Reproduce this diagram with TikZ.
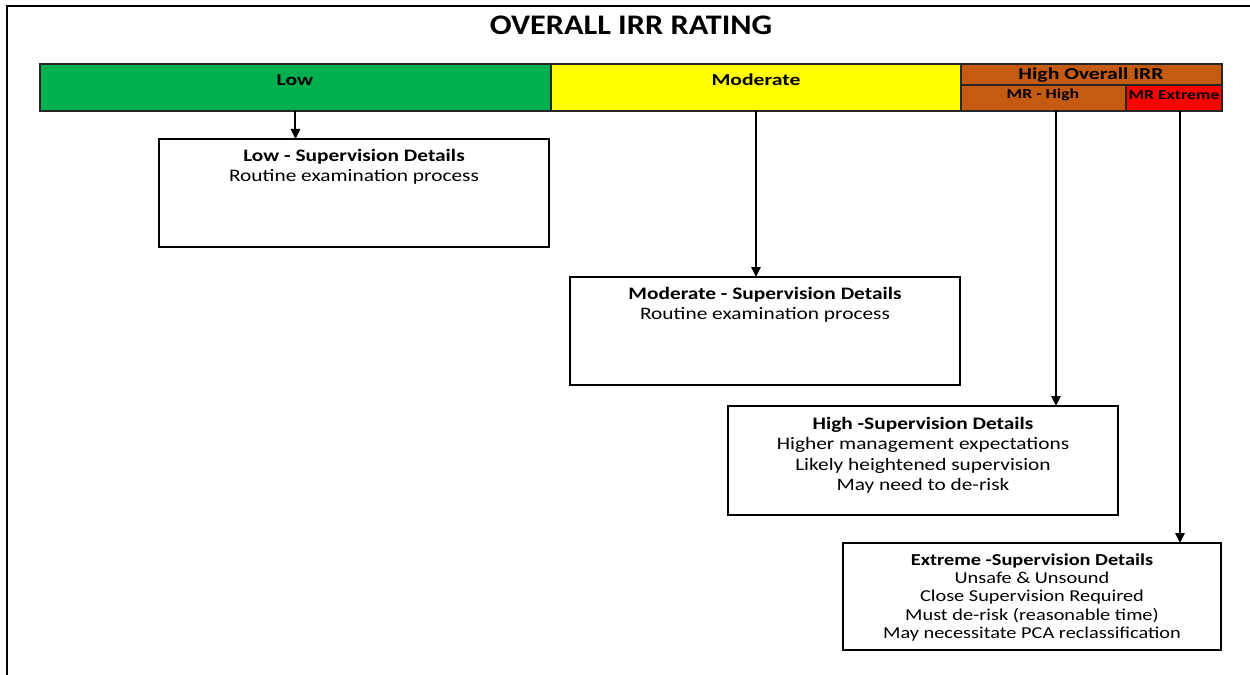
\documentclass[tikz,border=0pt]{standalone}
\usepackage{fontspec}
\setmainfont{Carlito}
\newfontfamily\bodyf{Carlito}[FakeStretch=1.22]
\newfontfamily\titlef{Carlito}[FakeStretch=1.14]
\newfontfamily\barf{Carlito}[FakeStretch=1.3]
\usetikzlibrary{arrows.meta}
\definecolor{cgreen}{HTML}{00B050}
\definecolor{cyellow}{HTML}{FFFF00}
\definecolor{corange}{HTML}{C55A11}
\definecolor{cred}{HTML}{FF0000}
\begin{document}
\begin{tikzpicture}[x=0.6pt,y=-0.6pt,
  seg/.style={draw=black!85, line width=0.8pt, inner sep=0, outer sep=0, anchor=north west},
  lbl/.style={font=\barf\bfseries\fontsize{10}{12}\selectfont, inner sep=0},
  slbl/.style={font=\barf\bfseries\fontsize{8.2}{10}\selectfont, inner sep=0},
  box/.style={draw, line width=1.2pt, anchor=north west, inner sep=0, outer sep=0},
  txt/.style={anchor=north, align=center, inner sep=0, font=\bodyf\fontsize{10.5}{12.2}\selectfont},
  arr/.style={line width=1.2pt, -{Triangle[length=6pt,width=5.5pt]}}
]
\useasboundingbox (0,0) rectangle (1250,675);
\draw[line width=1pt] (7,675) -- (7,6) -- (1250,6);
\node[font=\titlef\bfseries\fontsize{17}{20}\selectfont, inner sep=0] (title) at (631,25) {OVERALL IRR RATING};
% bar
\node[seg, fill=cgreen, minimum width=306.6pt, minimum height=28.2pt] (low) at (40,64) {};
\node[seg, fill=cyellow, minimum width=246pt, minimum height=28.2pt] (mod) at (551,64) {};
\node[seg, fill=corange, minimum width=156.6pt, minimum height=12.6pt] (high) at (961,64) {};
\node[seg, fill=corange, minimum width=99pt, minimum height=15.6pt] (mrh) at (961,85) {};
\node[seg, fill=cred, minimum width=57.6pt, minimum height=15.6pt] (mre) at (1126,85) {};
\node[lbl] (lowl) at (295,80) {Low};
\node[lbl] (modl) at (756,80) {Moderate};
\node[lbl] (highl) at (1091,75) {High Overall IRR};
\node[slbl] (mrhl) at (1043,95) {MR - High};
\node[slbl] (mrel) at (1174,95) {MR Extreme};
% boxes
\node[box, minimum width=234pt, minimum height=64.8pt] (lowbox) at (159,139) {};
\node[box, minimum width=234pt, minimum height=64.8pt] (modbox) at (570,277) {};
\node[box, minimum width=234pt, minimum height=65.4pt] (hbox) at (728,406) {};
\node[box, minimum width=226.8pt, minimum height=64.2pt] (xbox) at (843,543) {};
\node[txt] (lowt) at ([yshift=-6pt]lowbox.north) {\textbf{Low - Supervision Details}\\Routine examination process};
\node[txt] (modt) at ([yshift=-6pt]modbox.north) {\textbf{Moderate - Supervision Details}\\Routine examination process};
\node[txt] (ht) at ([yshift=-6.5pt]hbox.north) {\textbf{High -Supervision Details}\\Higher management expectations\\Likely heightened supervision\\May need to de-risk};
\node[txt, font=\bodyf\fontsize{10}{11}\selectfont] (xt) at ([yshift=-6pt]xbox.north) {\textbf{Extreme -Supervision Details}\\Unsafe \& Unsound\\Close Supervision Required\\Must de-risk (reasonable time)\\May necessitate PCA reclassification};
% arrows
\draw[arr] (low.south) -- (low.south |- lowbox.north);
\draw[arr] (mod.south) -- (mod.south |- modbox.north);
\draw[arr] ([xshift=7.5pt]mrh.south) -- ([xshift=7.5pt]mrh.south |- hbox.north);
\draw[arr] ([xshift=3.6pt]mre.south) -- ([xshift=3.6pt]mre.south |- xbox.north);
\end{tikzpicture}
\end{document}
